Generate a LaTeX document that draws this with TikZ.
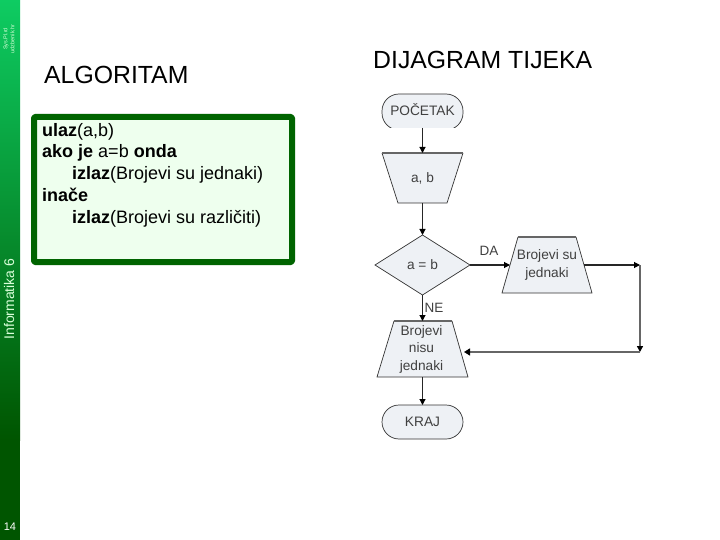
\documentclass[tikz,border=0pt]{standalone}
\usepackage{fontspec}
\setmainfont{Liberation Sans}
\usetikzlibrary{arrows.meta,shapes.geometric}
\definecolor{fcfill}{HTML}{EEF1F5}
\definecolor{fcline}{HTML}{333333}
\definecolor{boxgreen}{HTML}{006400}
\definecolor{boxfill}{HTML}{EEFFEE}
\definecolor{sidetop}{RGB}{14,204,98}
\definecolor{sidebot}{RGB}{0,85,0}
\tikzset{
  fc/.style={draw=fcline,fill=fcfill,line width=0.7pt},
  fctext/.style={inner sep=0pt,align=center,font=\fontsize{13.7}{17.5}\selectfont,text=black!75},
  topedge/.style={draw=black!60,line width=1.6pt},
  conn/.style={draw=black!85,line width=1.1pt,-{Triangle[length=6pt,width=6pt,color=black]}},
  connb/.style={draw=black!60,line width=1.4pt},
  title/.style={inner sep=0pt,anchor=west,font=\fontsize{24.8}{28}\selectfont},
  side/.style={rotate=90,inner sep=0pt,text=white!85!green},
}
\begin{document}
\begin{tikzpicture}[x=1pt,y=-1pt]
\useasboundingbox (0,0) rectangle (720,540);
\fill[white] (0,0) rectangle (720,540);
% sidebar
\shade[top color=sidetop,bottom color=sidebot] (0,0) rectangle (20,440);
\fill[sidebot] (0,439.5) rectangle (20,540);
\node[side,font=\fontsize{5.5}{7}\selectfont,align=center] (sideA) at (9,39) {Sys.Pl.rd\\udzbenik.hr};
\node[side,font=\fontsize{14}{16}\selectfont] (sideB) at (9,299) {Informatika 6};
\node[inner sep=0pt,text=white,font=\fontsize{11}{12}\selectfont] (pg) at (10,527) {14};
% titles
\node[title] (algo) at (44,75) {ALGORITAM};
\node[title] (dij) at (373,60) {DIJAGRAM TIJEKA};
% green box
\draw[draw=boxgreen,fill=boxfill,line width=6pt,line join=round,rounded corners=1pt] (34,117) rectangle (292,262);
\node[inner sep=0pt,anchor=north west,align=left,font=\fontsize{18}{21.7}\selectfont] (code) at (42,123)
{\textbf{ulaz}(a,b)\\
 \textbf{ako je} a=b \textbf{onda}\\
 \hspace*{30pt}\textbf{izlaz}(Brojevi su jednaki)\\
 \textbf{inače}\\
 \hspace*{30pt}\textbf{izlaz}(Brojevi su različiti)};
% coordinates of flowchart
\coordinate (p1b) at (422.5,128);
\coordinate (abt) at (422.5,153);
\coordinate (abb) at (422.5,203);
\coordinate (dt) at (422.5,235);
\coordinate (db) at (422.5,295);
\coordinate (dr) at (470,265);
\coordinate (dl) at (375,265);
\coordinate (jl) at (510,265);
\coordinate (jr) at (584,265);
\coordinate (c1) at (640,265);
\coordinate (c2) at (640,352);
\coordinate (nr) at (464,352);
\coordinate (nt) at (422.5,321);
\coordinate (nb) at (422.5,377);
\coordinate (kt) at (422.5,405);
% POCETAK
\begin{scope}
\clip (370,90) rectangle (475,127.6);
\draw[fc,rounded corners=17pt] (382,94) rectangle (463,130);
\end{scope}
\node[fctext] (poc) at (422.5,110) {POČETAK};
% a,b
\fill[fcfill] (382,153) -- (463,153) -- (447,203) -- (398,203) -- cycle;
\draw[fc,fill=none] (382,153) -- (398,203) -- (447,203) -- (463,153);
\draw[topedge] (382,153) -- (463,153);
\node[fctext] (ab) at (422.5,178) {a, b};
% diamond
\draw[fc] (dt) -- (dr) -- (db) -- (dl) -- cycle;
\node[fctext] (ifn) at (422.5,265) {a = b};
% Brojevi su jednaki
\fill[fcfill] (518,237) -- (576,237) -- (592,293) -- (502,293) -- cycle;
\draw[fc,fill=none] (518,237) -- (502,293) -- (592,293) -- (576,237);
\draw[topedge] (518,237) -- (576,237);
\node[fctext] (jedn) at (547,265) {Brojevi su\\jednaki};
% Brojevi nisu jednaki
\fill[fcfill] (394,321) -- (452,321) -- (468,377) -- (377,377) -- cycle;
\draw[fc,fill=none] (394,321) -- (377,377) -- (468,377) -- (452,321);
\draw[topedge] (394,321) -- (452,321);
\node[fctext] (nisu) at (421.5,349) {Brojevi\\nisu\\jednaki};
% KRAJ
\draw[fc,rounded corners=17pt] (382,405) rectangle (463,439);
\node[fctext] (kraj) at (422.5,422) {KRAJ};
% connectors
\draw[conn] (p1b) -- (abt);
\draw[conn] (abb) -- (dt);
\draw[conn] (db) -- (nt);
\draw[conn] (nb) -- (kt);
\draw[conn] (dr) -- (jl);
\draw[conn] (jr) -- (c1);
\draw[connb,-{Triangle[length=6pt,width=6pt,color=black]}] (c1) -- (c2);
\draw[connb,-{Triangle[length=6pt,width=7pt,color=black]}] (c2) -- (nr);
\node[fctext,font=\fontsize{13.5}{15}\selectfont] (da) at (489,251) {DA};
\node[fctext,font=\fontsize{13.5}{15}\selectfont] (ne) at (434,308) {NE};
\end{tikzpicture}
\end{document}
